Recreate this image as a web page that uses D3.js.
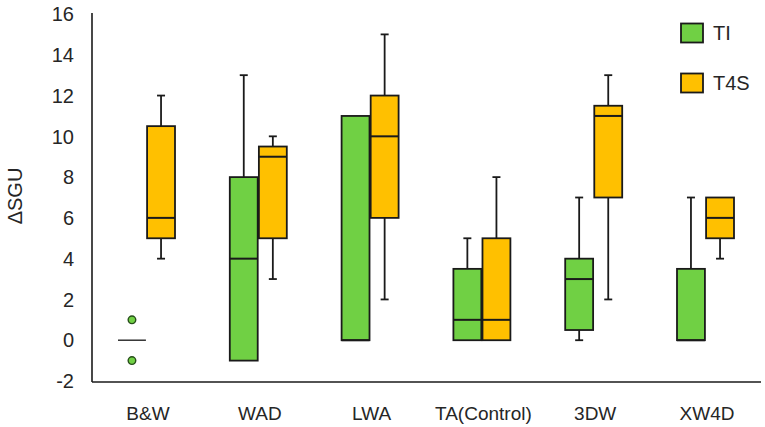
<!DOCTYPE html>
<html><head><meta charset="utf-8">
<script src="https://cdn.jsdelivr.net/npm/d3@7"></script>
<style>body{margin:0;background:#fff}svg{display:block}text{font-family:"Liberation Sans",Arial,sans-serif;fill:#262626}</style>
</head><body><svg id="c" width="765" height="427"></svg>
<script>
const categories = ["B&W","WAD","LWA","TA(Control)","3DW","XW4D"];
const series = ["TI","T4S"];
const colors = {"TI":"#70d044","T4S":"#ffc000"};
const yTicks = [-2,0,2,4,6,8,10,12,14,16];
// [min, q1, median, q3, max] per category
const tiStats = [
  [0,0,0,0,0],
  [-1,-1,4,8,13],
  [0,0,0,11,11],
  [0,0,1,3.5,5],
  [0,0.5,3,4,7],
  [0,0,0,3.5,7]
];
const t4sStats = [
  [4,5,6,10.5,12],
  [3,5,9,9.5,10],
  [2,6,10,12,15],
  [0,0,1,5,8],
  [2,7,11,11.5,13],
  [4,5,6,7,7]
];
const tiOutliers = [[0,1],[0,-1]]; // [categoryIndex, value]

const svg = d3.select("#c");
const x = d3.scaleBand().domain(categories).range([90.6,761.4]);
const xs = d3.scaleBand().domain(series).range([-28.5,28.5]).paddingInner(0.04);
const y = d3.scaleLinear().domain([-2,16]).range([381,14]);

// axes lines
svg.append("line").attr("x1",92).attr("x2",92).attr("y1",13).attr("y2",382).attr("stroke","#1a1a1a").attr("stroke-width",1.6);
svg.append("line").attr("x1",92).attr("x2",761).attr("y1",382).attr("y2",382).attr("stroke","#1a1a1a").attr("stroke-width",1.6);

// y tick labels
svg.append("g").selectAll("text").data(yTicks).join("text")
  .attr("x",74).attr("y",d=>y(d)).attr("dy","0.36em").attr("text-anchor","end")
  .style("font-size","20px").text(d=>d);

// x labels
svg.append("g").selectAll("text").data(categories).join("text")
  .attr("x",d=>x(d)+x.bandwidth()/2+1.5).attr("y",413).attr("dy","0.36em").attr("text-anchor","middle")
  .style("font-size","19px").text(d=>d);

// y title
svg.append("text").attr("transform","translate(15,196) rotate(-90)").attr("text-anchor","middle").attr("dy","0.36em")
  .style("font-size","20px").text("ΔSGU");

const all = [];
categories.forEach((c,i)=>{
  all.push({c,s:"TI",st:tiStats[i]});
  all.push({c,s:"T4S",st:t4sStats[i]});
});
const bw = xs.bandwidth();
const cx = d=>x(d.c)+x.bandwidth()/2+xs(d.s)+bw/2;
const stroke="#1a1a1a";
const g = svg.append("g");
all.forEach(d=>{
  const [mn,q1,md,q3,mx]=d.st;
  const c = cx(d);
  const gg = g.append("g");
  if(mx>q3){
    gg.append("line").attr("x1",c).attr("x2",c).attr("y1",y(mx)).attr("y2",y(q3)).attr("stroke",stroke).attr("stroke-width",1.8);
    gg.append("line").attr("x1",c-4).attr("x2",c+4).attr("y1",y(mx)).attr("y2",y(mx)).attr("stroke",stroke).attr("stroke-width",1.8);
  }
  if(mn<q1){
    gg.append("line").attr("x1",c).attr("x2",c).attr("y1",y(q1)).attr("y2",y(mn)).attr("stroke",stroke).attr("stroke-width",1.8);
    gg.append("line").attr("x1",c-4).attr("x2",c+4).attr("y1",y(mn)).attr("y2",y(mn)).attr("stroke",stroke).attr("stroke-width",1.8);
  }
  if(q3>q1){
    gg.append("rect").attr("x",c-bw/2).attr("width",bw).attr("y",y(q3)).attr("height",y(q1)-y(q3))
      .attr("fill",colors[d.s]).attr("stroke",stroke).attr("stroke-width",1.8);
  }
  gg.append("line").attr("x1",c-bw/2).attr("x2",c+bw/2).attr("y1",y(md)).attr("y2",y(md))
    .attr("stroke",q3>q1?stroke:"#333").attr("stroke-width",q3>q1?2:1.5);
});

// outliers
g.selectAll("circle.o").data(tiOutliers).join("circle")
  .attr("cx",d=>cx({c:categories[d[0]],s:"TI"})).attr("cy",d=>y(d[1])).attr("r",3.8)
  .attr("fill",colors.TI).attr("stroke","#264d1a").attr("stroke-width",1.4);

// legend
const lg = svg.append("g");
series.forEach((s,i)=>{
  lg.append("rect").attr("x",681).attr("y",23.5+i*50).attr("width",22).attr("height",19)
    .attr("fill",colors[s]).attr("stroke",stroke).attr("stroke-width",1.8);
  lg.append("text").attr("x",713).attr("y",33+i*50).attr("dy","0.36em").style("font-size","20px").text(s);
});
</script></body></html>
